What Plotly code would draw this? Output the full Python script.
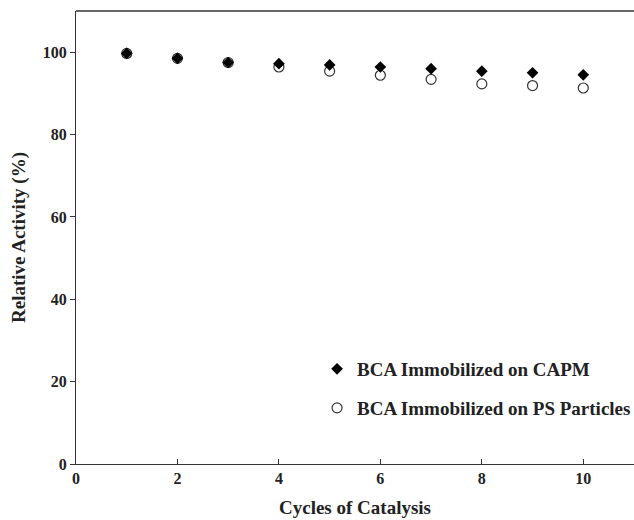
import plotly.graph_objects as go

cycles = [1, 2, 3, 4, 5, 6, 7, 8, 9, 10]
capm = [99.7, 98.5, 97.5, 97.2, 96.9, 96.4, 96.0, 95.4, 95.0, 94.5]
ps = [99.7, 98.5, 97.5, 96.4, 95.4, 94.4, 93.4, 92.3, 91.9, 91.3]
x_ticks = [0, 2, 4, 6, 8, 10]
y_ticks = [0, 20, 40, 60, 80, 100]

font_family = "Liberation Serif"

fig = go.Figure()
fig.add_trace(go.Scatter(
    x=cycles, y=ps, mode="markers", name="<b>BCA Immobilized on PS Particles</b>",
    marker=dict(symbol="circle-open", size=10, color="#333333", line=dict(width=1.2, color="#333333")),
    legend="legend2",
))
fig.add_trace(go.Scatter(
    x=cycles, y=capm, mode="markers", name="<b>BCA Immobilized on CAPM</b>",
    marker=dict(symbol="diamond", size=9, color="black"),
    legend="legend",
))

axis_common = dict(
    showline=True, linecolor="#333333", linewidth=1.3, showgrid=False, zeroline=False,
    tickfont=dict(family=font_family, size=16, color="#222222", weight="bold"),
    ticklen=5, tickcolor="#333333", tickwidth=1,
)

fig.update_layout(
    width=634, height=520,
    margin=dict(l=76, r=0, t=11, b=56, autoexpand=False),
    paper_bgcolor="white", plot_bgcolor="white",
    font=dict(family=font_family, color="#222222"),
    xaxis=dict(range=[0, 11], tickvals=x_ticks, ticks="inside", mirror=False,
               title=dict(text="<b>Cycles of Catalysis</b>", font=dict(family=font_family, size=19), standoff=14),
               **axis_common),
    yaxis=dict(range=[0, 110], tickvals=y_ticks, ticks="outside",
               title=dict(text="<b>Relative Activity (%)</b>", font=dict(family=font_family, size=19), standoff=12),
               **axis_common),
    legend=dict(x=0.432, y=0.2097, xanchor="left", yanchor="middle", bgcolor="rgba(0,0,0,0)",
                font=dict(family=font_family, size=19, color="#222222")),
    legend2=dict(x=0.432, y=0.1236, xanchor="left", yanchor="middle", bgcolor="rgba(0,0,0,0)",
                 font=dict(family=font_family, size=19, color="#222222")),
    showlegend=True,
)
fig.add_shape(type="line", xref="paper", yref="paper", x0=0, x1=1, y0=1, y1=1,
              line=dict(color="#333333", width=1.3))

fig.write_html("out.html")
